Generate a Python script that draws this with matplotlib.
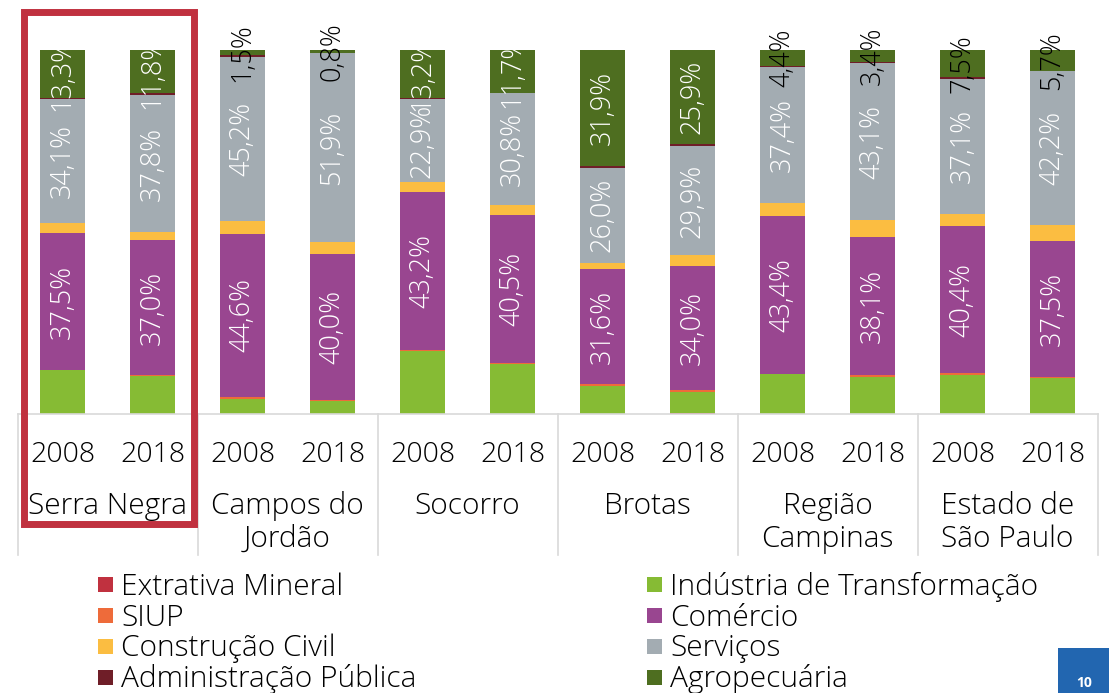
import matplotlib
matplotlib.use("Agg")
import matplotlib.pyplot as plt
from matplotlib.patches import Rectangle
import numpy as np

plt.rcParams['font.family'] = ['Open Sans', 'DejaVu Sans']

groups = ["Serra Negra", "Campos do\nJordão", "Socorro", "Brotas", "Região\nCampinas", "Estado de\nSão Paulo"]
years = ["2008", "2018"]

series_names = ['Extrativa Mineral', 'Indústria de Transformação', 'SIUP', 'Comércio',
                'Construção Civil', 'Serviços', 'Administração Pública', 'Agropecuária']
colors = ['#c0313f', '#86bb34', '#ee6b3a', '#994690', '#fbbd41', '#a3acb2', '#6f1e28', '#4e6e20']

extrativa = [0.1, 0.1, 0.1, 0.1, 0.1, 0.1, 0.1, 0.2, 0.1, 0.1, 0.1, 0.1]
industria = [11.9, 10.4, 4.1, 3.4, 17.3, 13.7, 7.7, 5.9, 10.8, 10.2, 10.7, 9.7]
siup = [0.1, 0.2, 0.6, 0.4, 0.3, 0.3, 0.4, 0.5, 0.2, 0.3, 0.4, 0.3]
comercio = [37.5, 37.0, 44.6, 40.0, 43.2, 40.5, 31.6, 34.0, 43.4, 38.1, 40.4, 37.5]
construcao = [2.8, 2.2, 3.5, 3.3, 2.7, 2.7, 1.8, 3.0, 3.5, 4.6, 3.4, 4.3]
servicos = [34.1, 37.8, 45.2, 51.9, 22.9, 30.8, 26.0, 29.9, 37.4, 43.1, 37.1, 42.2]
admin = [0.2, 0.5, 0.4, 0.1, 0.3, 0.2, 0.5, 0.6, 0.2, 0.2, 0.4, 0.2]
agro = [13.3, 11.8, 1.5, 0.8, 13.2, 11.7, 31.9, 25.9, 4.4, 3.4, 7.5, 5.7]

agro_label_colors = ['white', 'white', 'black', 'black', 'white', 'white',
                     'white', 'white', 'black', 'black', 'black', 'black']

series = [extrativa, industria, siup, comercio, construcao, servicos, admin, agro]
labeled = {3: ['white'] * 12, 5: ['white'] * 12, 7: agro_label_colors}

W, H = 1109, 693
fig = plt.figure(figsize=(W / 100, H / 100), dpi=100)

def fx(px):
    return px / W

def fy(py):
    return 1 - py / H

ax_left, ax_right, ax_top, ax_bot = 17.5, 1097.5, 50, 414
ax = fig.add_axes([fx(ax_left), fy(ax_bot), fx(ax_right - ax_left), (ax_bot - ax_top) / H])
n = len(groups) * len(years)
x = np.arange(n)
bottom = np.zeros(n)
FS = 19.5
FS_TXT = 21.5
FS_YR = 20.5
WT = 'light'
for si, (vals, col) in enumerate(zip(series, colors)):
    vals = np.array(vals)
    ax.bar(x, vals, width=0.5, bottom=bottom, color=col, linewidth=0, zorder=2)
    if si in labeled:
        for i in range(n):
            ax.text(x[i], bottom[i] + vals[i] / 2, f"{vals[i]:.1f}%".replace('.', ','),
                    rotation=90, ha='center', va='center', color=labeled[si][i],
                    fontsize=FS, fontweight=WT, zorder=5, clip_on=False, rotation_mode='anchor')
    bottom += vals

ax.set_xlim(-0.5, n - 0.5)
ax.set_ylim(0, 100)
ax.axis('off')

# category axis line and separators
sep_col = '#d9d9d9'
fig.add_artist(plt.Line2D([fx(ax_left), fx(ax_right)], [fy(ax_bot), fy(ax_bot)], color=sep_col, lw=1.2))
for g in range(len(groups) + 1):
    xp = ax_left + g * 180
    fig.add_artist(plt.Line2D([fx(xp), fx(xp)], [fy(ax_bot), fy(555)], color=sep_col, lw=1.2))

for i in range(n):
    xp = ax_left + 45 + 90 * i
    fig.text(fx(xp), fy(462), years[i % 2], ha='center', va='baseline', fontsize=FS_YR,
             fontweight=WT, color='black')
for g, name in enumerate(groups):
    xp = ax_left + 90 + 180 * g
    for k, line in enumerate(name.split('\n')):
        fig.text(fx(xp), fy(514 + 33 * k), line, ha='center', va='baseline', fontsize=FS_TXT,
                 fontweight=WT, color='black')

# highlight box
fig.add_artist(Rectangle((fx(23.5), fy(523.5)), fx(193.5 - 23.5), (523.5 - 11.5) / H,
                         fill=False, edgecolor='#c0313f', lw=5.0, zorder=10))

# legend
rows_base = [595, 625.5, 656, 687]
rows_mid = [584, 615, 646, 677]
col_x = [98, 647]
for i, (name, col) in enumerate(zip(series_names, colors)):
    r, c = i // 2, i % 2
    fig.add_artist(Rectangle((fx(col_x[c]), fy(rows_mid[r] + 7.5)), fx(15), 15 / H,
                             facecolor=col, edgecolor='none'))
    fig.text(fx(col_x[c] + 23), fy(rows_base[r]), name, ha='left', va='baseline',
             fontsize=FS_TXT, fontweight=WT, color='black')

# page number box
fig.add_artist(Rectangle((fx(1058), fy(693)), fx(51), 45 / H, facecolor='#2266b0', edgecolor='none'))
fig.text(fx(1084), fy(690), "10", ha='center', va='bottom', fontsize=10, color='white',
         fontweight='bold')

fig.savefig("out.png", dpi=100)
